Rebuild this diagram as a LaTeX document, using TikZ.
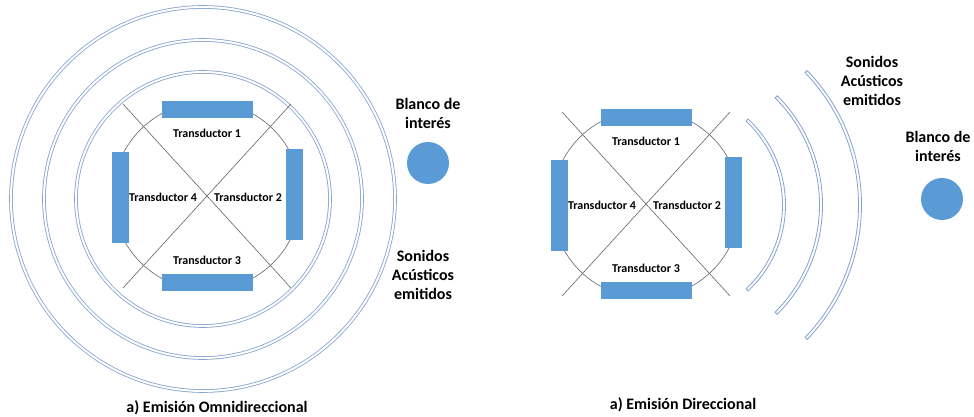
\documentclass[tikz,border=0pt]{standalone}
\usepackage{fontspec}
\setmainfont{Carlito}
\usetikzlibrary{positioning}
\definecolor{tblue}{RGB}{91,155,213}
\definecolor{wave}{RGB}{130,162,208}
\definecolor{frame}{RGB}{100,100,100}

\begin{document}
\begin{tikzpicture}
  [ x=1pt, y=-1pt,
    transh/.style={fill=tblue, draw=none, inner sep=0pt, minimum width=91pt, minimum height=17pt},
    transv/.style={transh, minimum width=17pt, minimum height=91pt},
    tlabel/.style={font=\bfseries\fontsize{12}{14}\selectfont, inner sep=0pt},
    bigtext/.style={font=\bfseries\fontsize{16}{19}\selectfont, align=center, inner sep=0pt},
    ring/.style={draw=wave, line width=0.8pt, double=white, double distance=2pt},
    band/.style={draw=wave, line width=0.8pt, fill=white},
    guide/.style={draw=frame, line width=0.6pt},
    target/.style={circle, fill=tblue, inner sep=0pt, minimum size=42pt} ]
  \useasboundingbox (0,0) rectangle (974,417);

  \coordinate (c1) at (207,196);
  \coordinate (w1) at (203,199);
  \coordinate (c2) at (646,204);
  \coordinate (w2) at (668,205);

  \draw [ring] (w1) circle [radius=127];
  \draw [ring] (w1) circle [radius=159];
  \draw [ring] (w1) circle [radius=192];

  \draw [guide] (c1) circle [radius=94];
  \draw [guide] ([shift={(-84,-92)}]c1) -- ([shift={(84,92)}]c1);
  \draw [guide] ([shift={(84,-92)}]c1) -- ([shift={(-84,92)}]c1);
  \node [name=t1a, transh] at ([shift={(0,-86)}]c1) {};
  \node [name=t2a, transv] at ([shift={(87,-1.5)}]c1) {};
  \node [name=t3a, transh] at ([shift={(0,86)}]c1) {};
  \node [name=t4a, transv] at ([shift={(-87,1.5)}]c1) {};
  \node [name=l1a, tlabel] at ([shift={(0,-63)}]c1) {Transductor 1};
  \node [name=l2a, tlabel] at ([shift={(41,1)}]c1) {Transductor 2};
  \node [name=l3a, tlabel] at ([shift={(0,64)}]c1) {Transductor 3};
  \node [name=l4a, tlabel] at ([shift={(-44,1)}]c1) {Transductor 4};

  \node [name=obj1, target] at (428,163) {};
  \node [name=blanco1, bigtext] at (428,113) {Blanco de\\interés};
  \node [name=sonido1, bigtext] at (423,275) {Sonidos\\Acústicos\\emitidos};
  \node [name=cap1, bigtext] at (217,408) {a) Emisión Omnidireccional};

  \draw [band] ([shift={(-47:117.5)}]w2) arc [start angle=-47, end angle=47, radius=117.5]
    -- ([shift={(47:114.5)}]w2) arc [start angle=47, end angle=-47, radius=114.5] -- cycle;
  \draw [band] ([shift={(-45:154.5)}]w2) arc [start angle=-45, end angle=45, radius=154.5]
    -- ([shift={(45:151.5)}]w2) arc [start angle=45, end angle=-45, radius=151.5] -- cycle;
  \draw [band] ([shift={(-44:193.5)}]w2) arc [start angle=-44, end angle=44, radius=193.5]
    -- ([shift={(44:190.5)}]w2) arc [start angle=44, end angle=-44, radius=190.5] -- cycle;

  \draw [guide] (c2) circle [radius=94];
  \draw [guide] ([shift={(-84,-92)}]c2) -- ([shift={(84,92)}]c2);
  \draw [guide] ([shift={(84,-92)}]c2) -- ([shift={(-84,92)}]c2);
  \node [name=t1b, transh] at ([shift={(0,-86)}]c2) {};
  \node [name=t2b, transv] at ([shift={(87,-1.5)}]c2) {};
  \node [name=t3b, transh] at ([shift={(0,86)}]c2) {};
  \node [name=t4b, transv] at ([shift={(-87,1.5)}]c2) {};
  \node [name=l1b, tlabel] at ([shift={(0,-63)}]c2) {Transductor 1};
  \node [name=l2b, tlabel] at ([shift={(41,1)}]c2) {Transductor 2};
  \node [name=l3b, tlabel] at ([shift={(0,64)}]c2) {Transductor 3};
  \node [name=l4b, tlabel] at ([shift={(-44,1)}]c2) {Transductor 4};

  \node [name=obj2, target] at (942,199) {};
  \node [name=blanco2, bigtext] at (938,146) {Blanco de\\interés};
  \node [name=sonido2, bigtext] at (872,81) {Sonidos\\Acústicos\\emitidos};
  \node [name=cap2, bigtext] at (683,405) {a) Emisión Direccional};
\end{tikzpicture}
\end{document}
